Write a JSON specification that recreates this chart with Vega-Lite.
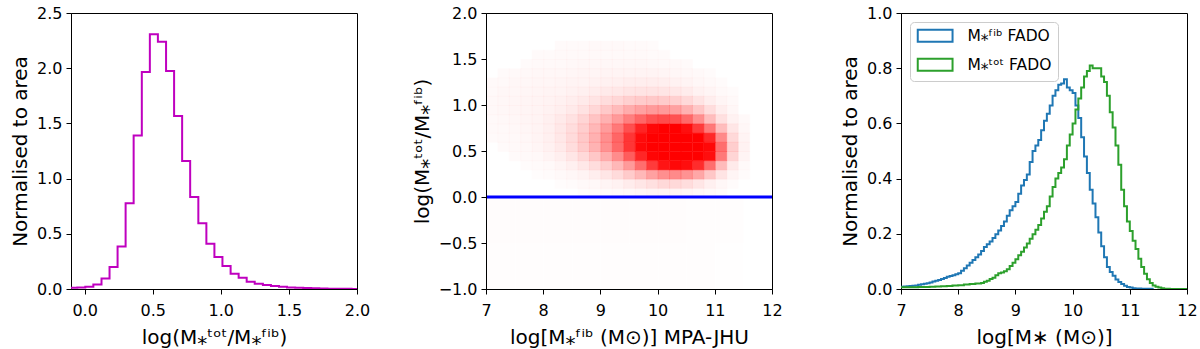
{
 "$schema": "https://vega.github.io/schema/vega-lite/v6.json",
 "background": "white",
 "padding": {"left": 10, "top": 4, "right": 0, "bottom": 0},
 "bounds": "flush",
 "spacing": 129,
 "resolve": {"legend": {"color": "independent"}, "scale": {"color": "independent"}},
 "config": {
  "font": "DejaVu Sans",
  "view": {"stroke": "black", "strokeWidth": 1},
  "axis": {"grid": false, "domainColor": "black", "tickColor": "black", "labelColor": "black", "titleColor": "black", "labelFontSize": 16, "titleFontSize": 20, "titleFontWeight": "normal", "tickSize": 5, "labelPadding": 4, "titlePadding": 6, "labelFlush": false, "labelOverlap": false},
  "axisX": {"labelPadding": 8, "titlePadding": 9},
  "legend": {"labelFont": "DejaVu Sans"}
 },
 "datasets": {
  "h1": [{"x":-0.113,"y":0.012},{"x":-0.054,"y":0.014},{"x":0.005,"y":0.02},{"x":0.064,"y":0.04},{"x":0.124,"y":0.094},{"x":0.183,"y":0.2},{"x":0.242,"y":0.386},{"x":0.301,"y":0.776},{"x":0.360,"y":1.39},{"x":0.420,"y":1.966},{"x":0.479,"y":2.307},{"x":0.538,"y":2.24},{"x":0.598,"y":1.975},{"x":0.657,"y":1.567},{"x":0.716,"y":1.16},{"x":0.775,"y":0.833},{"x":0.835,"y":0.595},{"x":0.894,"y":0.41},{"x":0.953,"y":0.29},{"x":1.012,"y":0.208},{"x":1.072,"y":0.139},{"x":1.131,"y":0.103},{"x":1.190,"y":0.066},{"x":1.249,"y":0.047},{"x":1.309,"y":0.036},{"x":1.368,"y":0.027},{"x":1.427,"y":0.02},{"x":1.486,"y":0.014},{"x":1.546,"y":0.011},{"x":1.605,"y":0.009},{"x":1.664,"y":0.007},{"x":1.723,"y":0.005},{"x":1.783,"y":0.003},{"x":1.842,"y":0.002},{"x":1.901,"y":0.002},{"x":1.960,"y":0.001},{"x":2.02,"y":0}],
  "zero": [{"y": 0}],
  "bg": [
   {"x":7.25,"y":-0.75,"d":0.02},{"x":7.75,"y":-0.75,"d":0.02},{"x":8.25,"y":-0.75,"d":0.02},{"x":8.75,"y":-0.75,"d":0.02},{"x":9.25,"y":-0.75,"d":0.02},{"x":9.75,"y":-0.75,"d":0.02},{"x":10.25,"y":-0.75,"d":0.02},{"x":10.75,"y":-0.75,"d":0.015},{"x":11.25,"y":-0.75,"d":0.012},
   {"x":7.25,"y":-0.25,"d":0.025},{"x":7.75,"y":-0.25,"d":0.025},{"x":8.25,"y":-0.25,"d":0.025},{"x":8.75,"y":-0.25,"d":0.025},{"x":9.25,"y":-0.25,"d":0.025},{"x":9.75,"y":-0.25,"d":0.025},{"x":10.25,"y":-0.25,"d":0.025},{"x":10.75,"y":-0.25,"d":0.02},{"x":11.25,"y":-0.25,"d":0.015}
  ],
  "sc": [
   {"x":8.3,"y":1.65,"d":0.03},{"x":8.5,"y":1.65,"d":0.03},{"x":8.7,"y":1.65,"d":0.03},{"x":8.9,"y":1.65,"d":0.035},{"x":9.1,"y":1.65,"d":0.035},{"x":9.3,"y":1.65,"d":0.035},{"x":9.5,"y":1.65,"d":0.03},{"x":9.7,"y":1.65,"d":0.03},{"x":9.9,"y":1.65,"d":0.025},
   {"x":7.9,"y":1.55,"d":0.03},{"x":8.1,"y":1.55,"d":0.03},{"x":8.3,"y":1.55,"d":0.035},{"x":8.5,"y":1.55,"d":0.04},{"x":8.7,"y":1.55,"d":0.04},{"x":8.9,"y":1.55,"d":0.04},{"x":9.1,"y":1.55,"d":0.04},{"x":9.3,"y":1.55,"d":0.04},{"x":9.5,"y":1.55,"d":0.04},{"x":9.7,"y":1.55,"d":0.035},{"x":9.9,"y":1.55,"d":0.03},{"x":10.1,"y":1.55,"d":0.03},
   {"x":7.7,"y":1.45,"d":0.03},{"x":7.9,"y":1.45,"d":0.035},{"x":8.1,"y":1.45,"d":0.04},{"x":8.3,"y":1.45,"d":0.04},{"x":8.5,"y":1.45,"d":0.045},{"x":8.7,"y":1.45,"d":0.05},{"x":8.9,"y":1.45,"d":0.05},{"x":9.1,"y":1.45,"d":0.05},{"x":9.3,"y":1.45,"d":0.05},{"x":9.5,"y":1.45,"d":0.05},{"x":9.7,"y":1.45,"d":0.05},{"x":9.9,"y":1.45,"d":0.045},{"x":10.1,"y":1.45,"d":0.04},{"x":10.3,"y":1.45,"d":0.035},{"x":10.5,"y":1.45,"d":0.03},
   {"x":7.3,"y":1.35,"d":0.03},{"x":7.5,"y":1.35,"d":0.04},{"x":7.7,"y":1.35,"d":0.045},{"x":7.9,"y":1.35,"d":0.05},{"x":8.1,"y":1.35,"d":0.05},{"x":8.3,"y":1.35,"d":0.05},{"x":8.5,"y":1.35,"d":0.055},{"x":8.7,"y":1.35,"d":0.06},{"x":8.9,"y":1.35,"d":0.06},{"x":9.1,"y":1.35,"d":0.065},{"x":9.3,"y":1.35,"d":0.07},{"x":9.5,"y":1.35,"d":0.07},{"x":9.7,"y":1.35,"d":0.07},{"x":9.9,"y":1.35,"d":0.065},{"x":10.1,"y":1.35,"d":0.06},{"x":10.3,"y":1.35,"d":0.05},{"x":10.5,"y":1.35,"d":0.045},{"x":10.7,"y":1.35,"d":0.035},{"x":10.9,"y":1.35,"d":0.025},
   {"x":7.1,"y":1.25,"d":0.035},{"x":7.3,"y":1.25,"d":0.04},{"x":7.5,"y":1.25,"d":0.05},{"x":7.7,"y":1.25,"d":0.05},{"x":7.9,"y":1.25,"d":0.055},{"x":8.1,"y":1.25,"d":0.055},{"x":8.3,"y":1.25,"d":0.06},{"x":8.5,"y":1.25,"d":0.065},{"x":8.7,"y":1.25,"d":0.07},{"x":8.9,"y":1.25,"d":0.08},{"x":9.1,"y":1.25,"d":0.085},{"x":9.3,"y":1.25,"d":0.09},{"x":9.5,"y":1.25,"d":0.1},{"x":9.7,"y":1.25,"d":0.1},{"x":9.9,"y":1.25,"d":0.1},{"x":10.1,"y":1.25,"d":0.095},{"x":10.3,"y":1.25,"d":0.08},{"x":10.5,"y":1.25,"d":0.07},{"x":10.7,"y":1.25,"d":0.05},{"x":10.9,"y":1.25,"d":0.04},{"x":11.1,"y":1.25,"d":0.025},
   {"x":7.1,"y":1.15,"d":0.04},{"x":7.3,"y":1.15,"d":0.05},{"x":7.5,"y":1.15,"d":0.05},{"x":7.7,"y":1.15,"d":0.055},{"x":7.9,"y":1.15,"d":0.06},{"x":8.1,"y":1.15,"d":0.065},{"x":8.3,"y":1.15,"d":0.07},{"x":8.5,"y":1.15,"d":0.08},{"x":8.7,"y":1.15,"d":0.09},{"x":8.9,"y":1.15,"d":0.105},{"x":9.1,"y":1.15,"d":0.12},{"x":9.3,"y":1.15,"d":0.13},{"x":9.5,"y":1.15,"d":0.145},{"x":9.7,"y":1.15,"d":0.15},{"x":9.9,"y":1.15,"d":0.15},{"x":10.1,"y":1.15,"d":0.145},{"x":10.3,"y":1.15,"d":0.13},{"x":10.5,"y":1.15,"d":0.11},{"x":10.7,"y":1.15,"d":0.08},{"x":10.9,"y":1.15,"d":0.06},{"x":11.1,"y":1.15,"d":0.04},{"x":11.3,"y":1.15,"d":0.025},
   {"x":7.1,"y":1.05,"d":0.045},{"x":7.3,"y":1.05,"d":0.05},{"x":7.5,"y":1.05,"d":0.055},{"x":7.7,"y":1.05,"d":0.06},{"x":7.9,"y":1.05,"d":0.065},{"x":8.1,"y":1.05,"d":0.075},{"x":8.3,"y":1.05,"d":0.085},{"x":8.5,"y":1.05,"d":0.1},{"x":8.7,"y":1.05,"d":0.12},{"x":8.9,"y":1.05,"d":0.15},{"x":9.1,"y":1.05,"d":0.18},{"x":9.3,"y":1.05,"d":0.21},{"x":9.5,"y":1.05,"d":0.24},{"x":9.7,"y":1.05,"d":0.26},{"x":9.9,"y":1.05,"d":0.27},{"x":10.1,"y":1.05,"d":0.26},{"x":10.3,"y":1.05,"d":0.24},{"x":10.5,"y":1.05,"d":0.2},{"x":10.7,"y":1.05,"d":0.15},{"x":10.9,"y":1.05,"d":0.1},{"x":11.1,"y":1.05,"d":0.06},{"x":11.3,"y":1.05,"d":0.035},
   {"x":7.1,"y":0.95,"d":0.045},{"x":7.3,"y":0.95,"d":0.05},{"x":7.5,"y":0.95,"d":0.055},{"x":7.7,"y":0.95,"d":0.06},{"x":7.9,"y":0.95,"d":0.07},{"x":8.1,"y":0.95,"d":0.08},{"x":8.3,"y":0.95,"d":0.095},{"x":8.5,"y":0.95,"d":0.12},{"x":8.7,"y":0.95,"d":0.16},{"x":8.9,"y":0.95,"d":0.21},{"x":9.1,"y":0.95,"d":0.27},{"x":9.3,"y":0.95,"d":0.33},{"x":9.5,"y":0.95,"d":0.39},{"x":9.7,"y":0.95,"d":0.43},{"x":9.9,"y":0.95,"d":0.46},{"x":10.1,"y":0.95,"d":0.46},{"x":10.3,"y":0.95,"d":0.43},{"x":10.5,"y":0.95,"d":0.37},{"x":10.7,"y":0.95,"d":0.28},{"x":10.9,"y":0.95,"d":0.18},{"x":11.1,"y":0.95,"d":0.1},{"x":11.3,"y":0.95,"d":0.05},
   {"x":7.1,"y":0.85,"d":0.04},{"x":7.3,"y":0.85,"d":0.045},{"x":7.5,"y":0.85,"d":0.05},{"x":7.7,"y":0.85,"d":0.06},{"x":7.9,"y":0.85,"d":0.07},{"x":8.1,"y":0.85,"d":0.09},{"x":8.3,"y":0.85,"d":0.12},{"x":8.5,"y":0.85,"d":0.16},{"x":8.7,"y":0.85,"d":0.22},{"x":8.9,"y":0.85,"d":0.29},{"x":9.1,"y":0.85,"d":0.37},{"x":9.3,"y":0.85,"d":0.46},{"x":9.5,"y":0.85,"d":0.56},{"x":9.7,"y":0.85,"d":0.65},{"x":9.9,"y":0.85,"d":0.72},{"x":10.1,"y":0.85,"d":0.74},{"x":10.3,"y":0.85,"d":0.72},{"x":10.5,"y":0.85,"d":0.64},{"x":10.7,"y":0.85,"d":0.5},{"x":10.9,"y":0.85,"d":0.32},{"x":11.1,"y":0.85,"d":0.17},{"x":11.3,"y":0.85,"d":0.08},{"x":11.5,"y":0.85,"d":0.035},
   {"x":7.1,"y":0.75,"d":0.035},{"x":7.3,"y":0.75,"d":0.04},{"x":7.5,"y":0.75,"d":0.045},{"x":7.7,"y":0.75,"d":0.055},{"x":7.9,"y":0.75,"d":0.07},{"x":8.1,"y":0.75,"d":0.09},{"x":8.3,"y":0.75,"d":0.13},{"x":8.5,"y":0.75,"d":0.18},{"x":8.7,"y":0.75,"d":0.25},{"x":8.9,"y":0.75,"d":0.34},{"x":9.1,"y":0.75,"d":0.45},{"x":9.3,"y":0.75,"d":0.58},{"x":9.5,"y":0.75,"d":0.73},{"x":9.7,"y":0.75,"d":0.88},{"x":9.9,"y":0.75,"d":0.97},{"x":10.1,"y":0.75,"d":1},{"x":10.3,"y":0.75,"d":1},{"x":10.5,"y":0.75,"d":0.95},{"x":10.7,"y":0.75,"d":0.8},{"x":10.9,"y":0.75,"d":0.58},{"x":11.1,"y":0.75,"d":0.32},{"x":11.3,"y":0.75,"d":0.14},{"x":11.5,"y":0.75,"d":0.05},
   {"x":7.1,"y":0.65,"d":0.03},{"x":7.3,"y":0.65,"d":0.035},{"x":7.5,"y":0.65,"d":0.04},{"x":7.7,"y":0.65,"d":0.05},{"x":7.9,"y":0.65,"d":0.065},{"x":8.1,"y":0.65,"d":0.09},{"x":8.3,"y":0.65,"d":0.13},{"x":8.5,"y":0.65,"d":0.19},{"x":8.7,"y":0.65,"d":0.27},{"x":8.9,"y":0.65,"d":0.37},{"x":9.1,"y":0.65,"d":0.5},{"x":9.3,"y":0.65,"d":0.65},{"x":9.5,"y":0.65,"d":0.82},{"x":9.7,"y":0.65,"d":0.96},{"x":9.9,"y":0.65,"d":1},{"x":10.1,"y":0.65,"d":1},{"x":10.3,"y":0.65,"d":1},{"x":10.5,"y":0.65,"d":1},{"x":10.7,"y":0.65,"d":1},{"x":10.9,"y":0.65,"d":0.86},{"x":11.1,"y":0.65,"d":0.52},{"x":11.3,"y":0.65,"d":0.2},{"x":11.5,"y":0.65,"d":0.07},
   {"x":7.3,"y":0.55,"d":0.03},{"x":7.5,"y":0.55,"d":0.035},{"x":7.7,"y":0.55,"d":0.045},{"x":7.9,"y":0.55,"d":0.06},{"x":8.1,"y":0.55,"d":0.085},{"x":8.3,"y":0.55,"d":0.12},{"x":8.5,"y":0.55,"d":0.18},{"x":8.7,"y":0.55,"d":0.26},{"x":8.9,"y":0.55,"d":0.36},{"x":9.1,"y":0.55,"d":0.49},{"x":9.3,"y":0.55,"d":0.64},{"x":9.5,"y":0.55,"d":0.82},{"x":9.7,"y":0.55,"d":0.97},{"x":9.9,"y":0.55,"d":1},{"x":10.1,"y":0.55,"d":1},{"x":10.3,"y":0.55,"d":1},{"x":10.5,"y":0.55,"d":1},{"x":10.7,"y":0.55,"d":1},{"x":10.9,"y":0.55,"d":0.97},{"x":11.1,"y":0.55,"d":0.62},{"x":11.3,"y":0.55,"d":0.25},{"x":11.5,"y":0.55,"d":0.08},
   {"x":7.5,"y":0.45,"d":0.03},{"x":7.7,"y":0.45,"d":0.035},{"x":7.9,"y":0.45,"d":0.045},{"x":8.1,"y":0.45,"d":0.065},{"x":8.3,"y":0.45,"d":0.095},{"x":8.5,"y":0.45,"d":0.14},{"x":8.7,"y":0.45,"d":0.2},{"x":8.9,"y":0.45,"d":0.28},{"x":9.1,"y":0.45,"d":0.38},{"x":9.3,"y":0.45,"d":0.51},{"x":9.5,"y":0.45,"d":0.68},{"x":9.7,"y":0.45,"d":0.87},{"x":9.9,"y":0.45,"d":0.98},{"x":10.1,"y":0.45,"d":1},{"x":10.3,"y":0.45,"d":1},{"x":10.5,"y":0.45,"d":1},{"x":10.7,"y":0.45,"d":1},{"x":10.9,"y":0.45,"d":0.95},{"x":11.1,"y":0.45,"d":0.58},{"x":11.3,"y":0.45,"d":0.22},{"x":11.5,"y":0.45,"d":0.07},
   {"x":7.7,"y":0.35,"d":0.025},{"x":7.9,"y":0.35,"d":0.03},{"x":8.1,"y":0.35,"d":0.04},{"x":8.3,"y":0.35,"d":0.06},{"x":8.5,"y":0.35,"d":0.09},{"x":8.7,"y":0.35,"d":0.13},{"x":8.9,"y":0.35,"d":0.18},{"x":9.1,"y":0.35,"d":0.25},{"x":9.3,"y":0.35,"d":0.34},{"x":9.5,"y":0.35,"d":0.46},{"x":9.7,"y":0.35,"d":0.62},{"x":9.9,"y":0.35,"d":0.8},{"x":10.1,"y":0.35,"d":0.93},{"x":10.3,"y":0.35,"d":0.97},{"x":10.5,"y":0.35,"d":0.95},{"x":10.7,"y":0.35,"d":0.85},{"x":10.9,"y":0.35,"d":0.62},{"x":11.1,"y":0.35,"d":0.33},{"x":11.3,"y":0.35,"d":0.12},{"x":11.5,"y":0.35,"d":0.04},
   {"x":7.9,"y":0.25,"d":0.02},{"x":8.1,"y":0.25,"d":0.025},{"x":8.3,"y":0.25,"d":0.035},{"x":8.5,"y":0.25,"d":0.05},{"x":8.7,"y":0.25,"d":0.07},{"x":8.9,"y":0.25,"d":0.1},{"x":9.1,"y":0.25,"d":0.14},{"x":9.3,"y":0.25,"d":0.19},{"x":9.5,"y":0.25,"d":0.26},{"x":9.7,"y":0.25,"d":0.34},{"x":9.9,"y":0.25,"d":0.43},{"x":10.1,"y":0.25,"d":0.5},{"x":10.3,"y":0.25,"d":0.52},{"x":10.5,"y":0.25,"d":0.49},{"x":10.7,"y":0.25,"d":0.41},{"x":10.9,"y":0.25,"d":0.28},{"x":11.1,"y":0.25,"d":0.15},{"x":11.3,"y":0.25,"d":0.06},{"x":11.5,"y":0.25,"d":0.025},
   {"x":8.3,"y":0.15,"d":0.02},{"x":8.5,"y":0.15,"d":0.025},{"x":8.7,"y":0.15,"d":0.035},{"x":8.9,"y":0.15,"d":0.045},{"x":9.1,"y":0.15,"d":0.06},{"x":9.3,"y":0.15,"d":0.08},{"x":9.5,"y":0.15,"d":0.11},{"x":9.7,"y":0.15,"d":0.14},{"x":9.9,"y":0.15,"d":0.17},{"x":10.1,"y":0.15,"d":0.2},{"x":10.3,"y":0.15,"d":0.2},{"x":10.5,"y":0.15,"d":0.18},{"x":10.7,"y":0.15,"d":0.14},{"x":10.9,"y":0.15,"d":0.09},{"x":11.1,"y":0.15,"d":0.05},{"x":11.3,"y":0.15,"d":0.025},
   {"x":8.7,"y":0.05,"d":0.02},{"x":8.9,"y":0.05,"d":0.025},{"x":9.1,"y":0.05,"d":0.03},{"x":9.3,"y":0.05,"d":0.035},{"x":9.5,"y":0.05,"d":0.045},{"x":9.7,"y":0.05,"d":0.055},{"x":9.9,"y":0.05,"d":0.065},{"x":10.1,"y":0.05,"d":0.07},{"x":10.3,"y":0.05,"d":0.07},{"x":10.5,"y":0.05,"d":0.06},{"x":10.7,"y":0.05,"d":0.05},{"x":10.9,"y":0.05,"d":0.035},{"x":11.1,"y":0.05,"d":0.025}
  ],
  "h3": [
   {"s":"f","x":6.9,"y":0.008},{"s":"f","x":7.0,"y":0.008},{"s":"f","x":7.05,"y":0.009},{"s":"f","x":7.1,"y":0.01},{"s":"f","x":7.15,"y":0.011},{"s":"f","x":7.2,"y":0.012},{"s":"f","x":7.25,"y":0.013},{"s":"f","x":7.3,"y":0.015},{"s":"f","x":7.35,"y":0.017},{"s":"f","x":7.4,"y":0.019},{"s":"f","x":7.45,"y":0.021},{"s":"f","x":7.5,"y":0.024},{"s":"f","x":7.55,"y":0.027},{"s":"f","x":7.6,"y":0.03},{"s":"f","x":7.65,"y":0.033},{"s":"f","x":7.7,"y":0.036},{"s":"f","x":7.75,"y":0.04},{"s":"f","x":7.8,"y":0.044},{"s":"f","x":7.85,"y":0.047},{"s":"f","x":7.9,"y":0.05},{"s":"f","x":7.95,"y":0.053},{"s":"f","x":8.0,"y":0.057},{"s":"f","x":8.05,"y":0.066},{"s":"f","x":8.1,"y":0.075},{"s":"f","x":8.15,"y":0.085},{"s":"f","x":8.2,"y":0.095},{"s":"f","x":8.25,"y":0.105},{"s":"f","x":8.3,"y":0.115},{"s":"f","x":8.35,"y":0.125},{"s":"f","x":8.4,"y":0.138},{"s":"f","x":8.45,"y":0.152},{"s":"f","x":8.5,"y":0.162},{"s":"f","x":8.55,"y":0.172},{"s":"f","x":8.6,"y":0.185},{"s":"f","x":8.65,"y":0.198},{"s":"f","x":8.7,"y":0.212},{"s":"f","x":8.75,"y":0.228},{"s":"f","x":8.8,"y":0.245},{"s":"f","x":8.85,"y":0.265},{"s":"f","x":8.9,"y":0.285},{"s":"f","x":8.95,"y":0.3},{"s":"f","x":9.0,"y":0.315},{"s":"f","x":9.05,"y":0.345},{"s":"f","x":9.1,"y":0.375},{"s":"f","x":9.15,"y":0.395},{"s":"f","x":9.2,"y":0.415},{"s":"f","x":9.25,"y":0.46},{"s":"f","x":9.3,"y":0.5},{"s":"f","x":9.35,"y":0.52},{"s":"f","x":9.4,"y":0.54},{"s":"f","x":9.45,"y":0.575},{"s":"f","x":9.5,"y":0.61},{"s":"f","x":9.55,"y":0.635},{"s":"f","x":9.6,"y":0.665},{"s":"f","x":9.65,"y":0.7},{"s":"f","x":9.7,"y":0.72},{"s":"f","x":9.75,"y":0.74},{"s":"f","x":9.8,"y":0.745},{"s":"f","x":9.85,"y":0.76},{"s":"f","x":9.9,"y":0.73},{"s":"f","x":9.95,"y":0.72},{"s":"f","x":10.0,"y":0.71},{"s":"f","x":10.05,"y":0.665},{"s":"f","x":10.1,"y":0.62},{"s":"f","x":10.15,"y":0.55},{"s":"f","x":10.2,"y":0.48},{"s":"f","x":10.25,"y":0.42},{"s":"f","x":10.3,"y":0.36},{"s":"f","x":10.35,"y":0.31},{"s":"f","x":10.4,"y":0.26},{"s":"f","x":10.45,"y":0.205},{"s":"f","x":10.5,"y":0.155},{"s":"f","x":10.55,"y":0.115},{"s":"f","x":10.6,"y":0.08},{"s":"f","x":10.65,"y":0.062},{"s":"f","x":10.7,"y":0.048},{"s":"f","x":10.75,"y":0.034},{"s":"f","x":10.8,"y":0.025},{"s":"f","x":10.85,"y":0.018},{"s":"f","x":10.9,"y":0.012},{"s":"f","x":10.95,"y":0.007},{"s":"f","x":11.0,"y":0.005},{"s":"f","x":11.05,"y":0.003},{"s":"f","x":11.1,"y":0.002},{"s":"f","x":11.2,"y":0.001},{"s":"f","x":11.4,"y":0},
   {"s":"t","x":6.9,"y":0.006},{"s":"t","x":7.0,"y":0.006},{"s":"t","x":7.1,"y":0.006},{"s":"t","x":7.2,"y":0.006},{"s":"t","x":7.3,"y":0.007},{"s":"t","x":7.4,"y":0.007},{"s":"t","x":7.5,"y":0.008},{"s":"t","x":7.6,"y":0.009},{"s":"t","x":7.7,"y":0.01},{"s":"t","x":7.8,"y":0.011},{"s":"t","x":7.9,"y":0.013},{"s":"t","x":8.0,"y":0.014},{"s":"t","x":8.1,"y":0.016},{"s":"t","x":8.2,"y":0.018},{"s":"t","x":8.3,"y":0.02},{"s":"t","x":8.4,"y":0.022},{"s":"t","x":8.45,"y":0.026},{"s":"t","x":8.5,"y":0.03},{"s":"t","x":8.55,"y":0.036},{"s":"t","x":8.6,"y":0.041},{"s":"t","x":8.65,"y":0.05},{"s":"t","x":8.7,"y":0.057},{"s":"t","x":8.75,"y":0.06},{"s":"t","x":8.8,"y":0.064},{"s":"t","x":8.85,"y":0.072},{"s":"t","x":8.9,"y":0.083},{"s":"t","x":8.95,"y":0.095},{"s":"t","x":9.0,"y":0.108},{"s":"t","x":9.05,"y":0.122},{"s":"t","x":9.1,"y":0.135},{"s":"t","x":9.15,"y":0.15},{"s":"t","x":9.2,"y":0.165},{"s":"t","x":9.25,"y":0.182},{"s":"t","x":9.3,"y":0.198},{"s":"t","x":9.35,"y":0.215},{"s":"t","x":9.4,"y":0.232},{"s":"t","x":9.45,"y":0.255},{"s":"t","x":9.5,"y":0.28},{"s":"t","x":9.55,"y":0.3},{"s":"t","x":9.6,"y":0.335},{"s":"t","x":9.65,"y":0.37},{"s":"t","x":9.7,"y":0.4},{"s":"t","x":9.75,"y":0.42},{"s":"t","x":9.8,"y":0.44},{"s":"t","x":9.85,"y":0.47},{"s":"t","x":9.9,"y":0.52},{"s":"t","x":9.95,"y":0.56},{"s":"t","x":10.0,"y":0.6},{"s":"t","x":10.05,"y":0.65},{"s":"t","x":10.1,"y":0.69},{"s":"t","x":10.15,"y":0.73},{"s":"t","x":10.2,"y":0.77},{"s":"t","x":10.25,"y":0.79},{"s":"t","x":10.3,"y":0.81},{"s":"t","x":10.35,"y":0.8},{"s":"t","x":10.4,"y":0.8},{"s":"t","x":10.45,"y":0.8},{"s":"t","x":10.5,"y":0.77},{"s":"t","x":10.55,"y":0.75},{"s":"t","x":10.6,"y":0.7},{"s":"t","x":10.65,"y":0.64},{"s":"t","x":10.7,"y":0.585},{"s":"t","x":10.75,"y":0.52},{"s":"t","x":10.8,"y":0.45},{"s":"t","x":10.85,"y":0.36},{"s":"t","x":10.9,"y":0.3},{"s":"t","x":10.95,"y":0.245},{"s":"t","x":11.0,"y":0.21},{"s":"t","x":11.05,"y":0.175},{"s":"t","x":11.1,"y":0.145},{"s":"t","x":11.15,"y":0.11},{"s":"t","x":11.2,"y":0.08},{"s":"t","x":11.25,"y":0.055},{"s":"t","x":11.3,"y":0.035},{"s":"t","x":11.35,"y":0.022},{"s":"t","x":11.4,"y":0.013},{"s":"t","x":11.45,"y":0.008},{"s":"t","x":11.5,"y":0.005},{"s":"t","x":11.55,"y":0.003},{"s":"t","x":11.6,"y":0.001},{"s":"t","x":11.7,"y":0},{"s":"t","x":12.1,"y":0}
  ]
 },
 "hconcat": [
  {
   "width": 286, "height": 276,
   "data": {"name": "h1"},
   "mark": {"type": "line", "interpolate": "step-after", "color": "#bf00bf", "strokeWidth": 2, "clip": true},
   "encoding": {
    "x": {"field": "x", "type": "quantitative", "scale": {"domain": [-0.1, 2.0], "nice": false, "zero": false}, "axis": {"values": [0, 0.5, 1, 1.5, 2], "format": ".1f", "title": "log(M⁎ᵗᵒᵗ/M⁎ᶠⁱᵇ)"}},
    "y": {"field": "y", "type": "quantitative", "scale": {"domain": [0, 2.5], "nice": false}, "axis": {"values": [0, 0.5, 1, 1.5, 2, 2.5], "format": ".1f", "title": "Normalised to area"}}
   }
  },
  {
   "width": 286, "height": 276,
   "layer": [
    {
     "data": {"name": "bg"},
     "mark": {"type": "rect", "color": "#ff0000", "clip": true},
     "encoding": {
      "x": {"field": "x", "type": "quantitative", "bin": {"step": 0.5, "extent": [7, 12]}, "scale": {"domain": [7, 12], "nice": false, "zero": false}, "axis": {"values": [7, 8, 9, 10, 11, 12], "format": "d", "title": "log[M⁎ᶠⁱᵇ (M⊙)] MPA-JHU"}},
      "y": {"field": "y", "type": "quantitative", "bin": {"step": 0.5, "extent": [-1, 2]}, "scale": {"domain": [-1, 2], "nice": false, "zero": false}, "axis": {"values": [-1, -0.5, 0, 0.5, 1, 1.5, 2], "format": ".1f", "title": "log(M⁎ᵗᵒᵗ/M⁎ᶠⁱᵇ)"}},
      "opacity": {"field": "d", "type": "quantitative", "scale": {"type": "pow", "exponent": 1.2, "domain": [0, 1], "range": [0, 1]}, "legend": null}
     }
    },
    {
     "data": {"name": "sc"},
     "mark": {"type": "rect", "color": "#ff0000", "stroke": "#ff0000", "strokeWidth": 0.4, "clip": true},
     "encoding": {
      "x": {"field": "x", "type": "quantitative", "bin": {"step": 0.2, "extent": [7, 12]}},
      "y": {"field": "y", "type": "quantitative", "bin": {"step": 0.1, "extent": [-1, 2]}},
      "opacity": {"field": "d", "type": "quantitative", "scale": {"type": "pow", "exponent": 1.2, "domain": [0, 1], "range": [0, 1]}, "legend": null}
     }
    },
    {
     "data": {"name": "zero"},
     "mark": {"type": "rule", "color": "#0000ff", "strokeWidth": 3},
     "encoding": {"y": {"field": "y", "type": "quantitative"}}
    }
   ]
  },
  {
   "width": 286, "height": 276,
   "data": {"name": "h3"},
   "mark": {"type": "line", "interpolate": "step-after", "strokeWidth": 2, "clip": true},
   "encoding": {
    "x": {"field": "x", "type": "quantitative", "scale": {"domain": [7, 12], "nice": false, "zero": false}, "axis": {"values": [7, 8, 9, 10, 11, 12], "format": "d", "title": "log[M∗ (M⊙)]"}},
    "y": {"field": "y", "type": "quantitative", "scale": {"domain": [0, 1], "nice": false}, "axis": {"values": [0, 0.2, 0.4, 0.6, 0.8, 1.0], "format": ".1f", "title": "Normalised to area"}},
    "color": {"field": "s", "type": "nominal", "scale": {"domain": ["f", "t"], "range": ["#1f77b4", "#2ca02c"]},
     "legend": {"title": null, "orient": "top-left", "offset": 9, "fillColor": "white", "strokeColor": "#cccccc", "cornerRadius": 4, "padding": 6, "labelFontSize": 15.5, "labelColor": "black", "labelOffset": 36, "symbolType": "M-1,-1H4.8V1H-1Z", "symbolSize": 144, "symbolStrokeWidth": 2, "symbolFillColor": "white", "rowPadding": 8,
      "labelExpr": "datum.value == 'f' ? 'M⁎ᶠⁱᵇ FADO' : 'M⁎ᵗᵒᵗ FADO'"}}
   }
  }
 ]
}
